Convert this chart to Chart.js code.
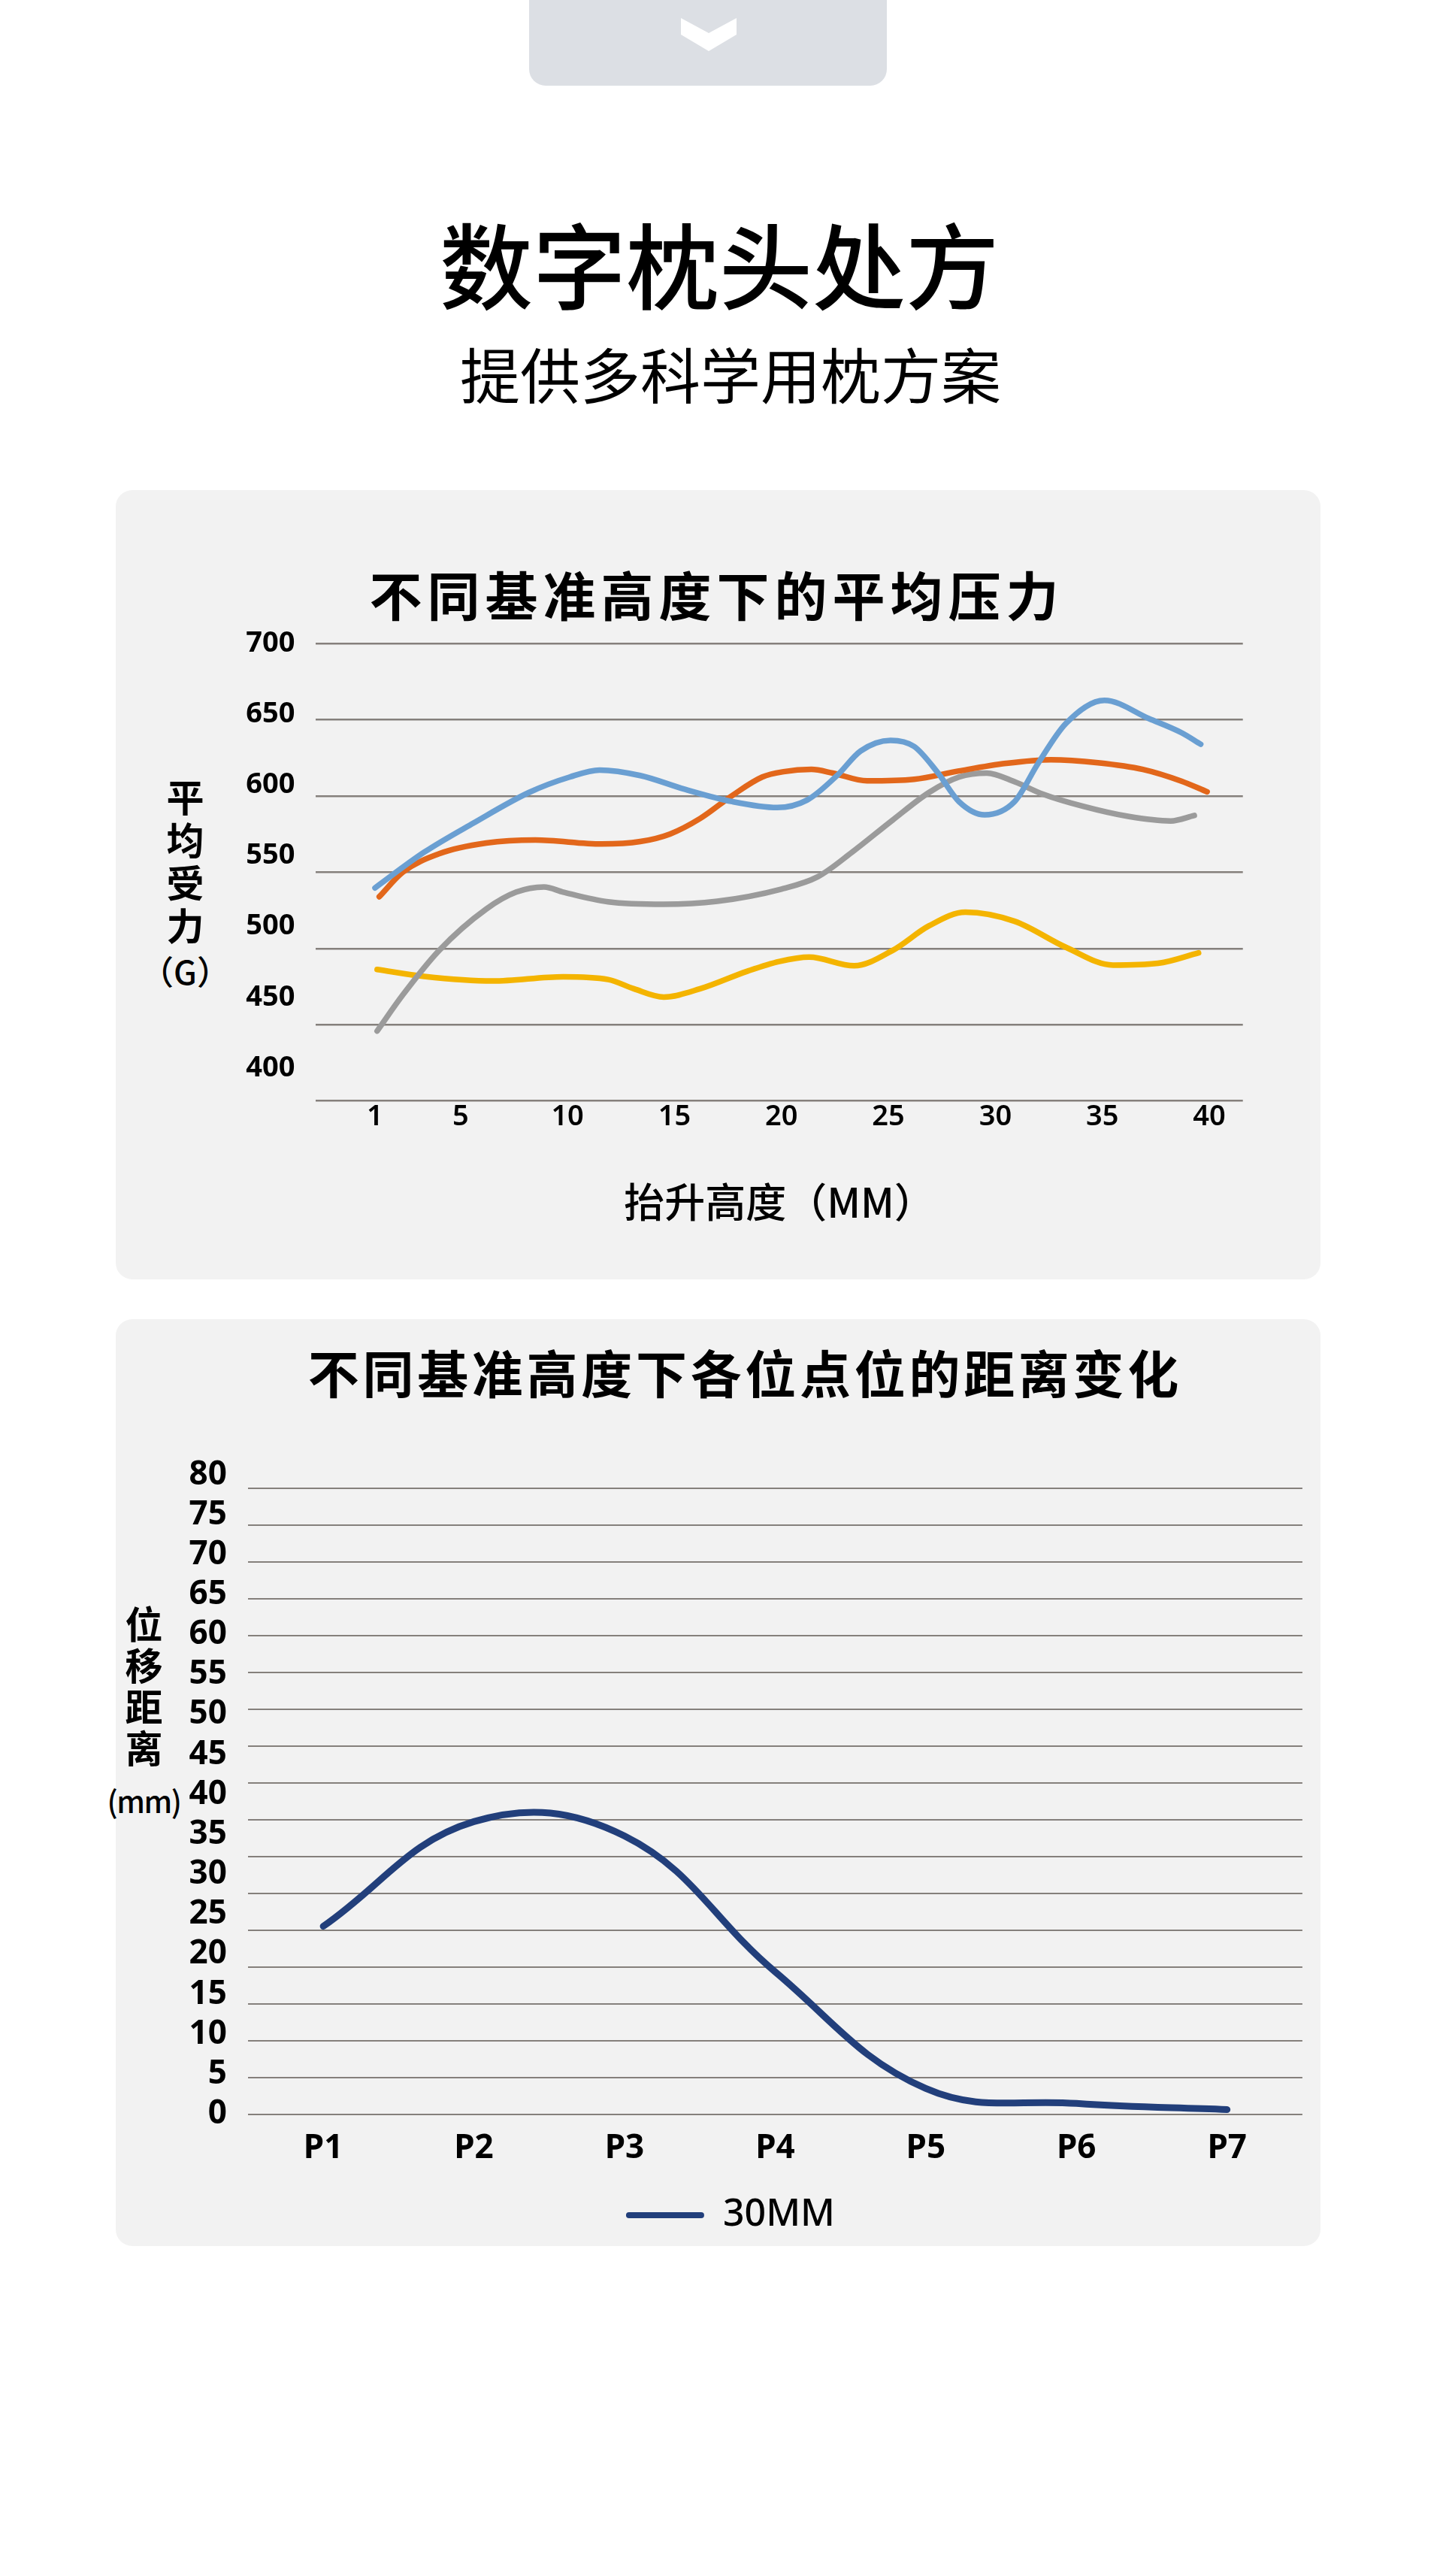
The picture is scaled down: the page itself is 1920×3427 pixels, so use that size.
<!DOCTYPE html>
<html lang="zh-CN">
<head>
<meta charset="utf-8">
<title>数字枕头处方</title>
<script src="https://cdn.jsdelivr.net/npm/chart.js@4.4.1/dist/chart.umd.min.js"></script>
<style>
html,body{margin:0;padding:0;background:#fff;}
body{position:relative;width:1920px;height:3427px;overflow:hidden;font-family:"Noto Sans CJK SC","Noto Sans",sans-serif;color:#000;}
.abs{position:absolute;}
.tab{left:704px;top:0;width:476px;height:114px;background:#dcdfe4;border-radius:0 0 22px 22px;}
.chev{left:906px;top:24px;width:74px;height:44px;}
.h1{left:0;width:1920px;text-align:center;font-size:124px;line-height:124px;font-weight:500;top:286px;transform:translateX(-3px);white-space:nowrap;}
.h2{left:0;width:1920px;text-align:center;font-size:80px;line-height:80px;font-weight:400;top:455px;transform:translateX(12px);white-space:nowrap;}
.panel{left:154px;width:1603px;background:#f2f2f2;border-radius:22px;}
.ctitle{left:0;width:1920px;text-align:center;font-weight:700;white-space:nowrap;}
.t1{font-size:70px;line-height:70px;letter-spacing:7px;padding-left:7px;box-sizing:border-box;top:755px;transform:translateX(-10px);}
.t2{font-size:68px;line-height:68px;letter-spacing:4.7px;padding-left:4.7px;box-sizing:border-box;top:1791px;transform:translateX(29px);}
.ytitle{text-align:center;font-weight:700;white-space:nowrap;}
canvas{position:absolute;}
</style>
</head>
<body>
<div class="abs tab"></div>
<svg class="abs chev" viewBox="0 0 74 44"><polygon points="0,0 37,20 74,0 74,22 37,44 0,22" fill="#ffffff"/></svg>
<div class="abs h1">数字枕头处方</div>
<div class="abs h2">提供多科学用枕方案</div>

<div class="abs panel" style="top:652px;height:1050px;"></div>
<div class="abs panel" style="top:1755px;height:1233px;"></div>

<div class="abs ctitle t1">不同基准高度下的平均压力</div>
<div class="abs ytitle" style="left:196.5px;width:100px;top:1030px;font-size:50px;line-height:57px;">平<br>均<br>受<br>力</div>
<div class="abs ytitle" style="left:166.5px;width:160px;top:1268.5px;font-size:44px;line-height:44px;font-weight:500;">（G）</div>
<canvas id="c1" width="1603" height="1050" style="left:154px;top:652px;width:1603px;height:1050px;"></canvas>

<div class="abs ctitle t2">不同基准高度下各位点位的距离变化</div>
<div class="abs ytitle" style="left:141.5px;width:100px;top:2130.7px;font-size:50px;line-height:55px;">位<br>移<br>距<br>离</div>
<div class="abs ytitle" style="left:111.5px;width:160px;top:2375px;font-size:40px;line-height:40px;font-weight:500;letter-spacing:-1.5px;">(mm)</div>
<canvas id="c2" width="1603" height="1233" style="left:154px;top:1755px;width:1603px;height:1233px;"></canvas>

<script>
// ---------- Chart 1 data: 不同基准高度下的平均压力 ----------
const X_TICKS = [1, 5, 10, 15, 20, 25, 30, 35, 40];
const Y1_TICKS = [400, 450, 500, 550, 600, 650, 700];

const BLUE_X = [1, 3.3, 5.6, 8.2, 10.1, 11.5, 13.4, 15.5, 17.7, 19.8, 21.2, 22.6, 23.7, 25.1, 26.2, 27.3, 28.3, 29.5, 30.9, 32.0, 33.3, 35.1, 37.2, 38.7, 39.6];
const BLUE_Y = [539.8, 563.2, 582.3, 602.4, 612.5, 617.1, 613.5, 604.4, 596.4, 592.5, 597.4, 613.5, 629.6, 636.6, 632.6, 615.5, 596.4, 587.7, 596.4, 621.5, 647.7, 662.8, 650.7, 641.6, 634.0];

const ORANGE_X = [1.2, 2.3, 4.0, 6.2, 8.5, 11.6, 13.4, 14.8, 16.2, 17.7, 19.1, 20.1, 21.4, 22.4, 24.0, 26.2, 28.3, 30.5, 32.6, 34.8, 36.9, 38.7, 39.9];
const ORANGE_Y = [534.0, 550.1, 562.2, 569.2, 571.2, 568.6, 570.2, 575.2, 585.3, 600.4, 612.5, 616.0, 617.5, 615.1, 610.0, 611.0, 616.5, 621.5, 623.9, 621.9, 617.5, 609.8, 602.8];

const GRAY_X = [1.1, 2.3, 4.0, 6.2, 7.6, 8.9, 9.8, 11.9, 14.5, 17.0, 20.0, 21.7, 23.3, 25.2, 26.9, 28.3, 29.6, 30.9, 32.2, 34.1, 36.2, 38.2, 39.3];
const GRAY_Y = [445.9, 469.6, 498.8, 525.9, 537.0, 540.4, 537.0, 530.6, 529.0, 531.0, 539.0, 547.1, 563.2, 584.3, 602.4, 612.5, 615.1, 609.4, 601.4, 593.3, 586.7, 583.7, 587.3];

const YELLOW_X = [1.1, 3.3, 6.5, 9.8, 11.9, 13.1, 14.5, 16.2, 18.4, 19.9, 21.3, 23.4, 25.2, 26.9, 28.6, 30.9, 33.3, 35.5, 37.6, 39.5];
const YELLOW_Y = [486.3, 481.7, 478.7, 481.5, 479.7, 473.6, 468.2, 473.6, 485.1, 491.5, 494.4, 488.7, 498.8, 514.9, 523.9, 517.9, 500.8, 489.1, 490.3, 497.2];

// ---------- Chart 2 data: 不同基准高度下各位点位的距离变化 ----------
const P_LABELS = ['P1', 'P2', 'P3', 'P4', 'P5', 'P6', 'P7'];
const MM30 = [23.5, 36.6, 34.8, 17.8, 3.2, 1.33, 0.56];
const Y2_TICKS = [0, 5, 10, 15, 20, 25, 30, 35, 40, 45, 50, 55, 60, 65, 70, 75, 80];
const GRID2_TICKS = [0, 5, 10, 15, 20, 25, 30, 35, 40, 45, 50, 55, 60, 65, 70, 75, 80, 85];

const GRID = '#85807c';
const NAVY = '#223f7b';
const toXY = (xs, ys) => xs.map((x, i) => ({ x: x, y: ys[i] }));
const lineDs = (label, xs, ys, color) => ({
  label: label, data: toXY(xs, ys), borderColor: color, backgroundColor: color,
  borderWidth: 7.5, pointRadius: 0, pointHoverRadius: 0, cubicInterpolationMode: 'monotone',
  borderCapStyle: 'round', borderJoinStyle: 'round', fill: false
});
const tickSet = arr => (s => { s.ticks = arr.map(v => ({ value: v })); });

new Chart(document.getElementById('c1'), {
  type: 'line',
  data: {
    datasets: [
      lineDs('系列1', BLUE_X, BLUE_Y, '#6a9fd2'),
      lineDs('系列2', ORANGE_X, ORANGE_Y, '#e2671b'),
      lineDs('系列3', GRAY_X, GRAY_Y, '#9b9b9b'),
      lineDs('系列4', YELLOW_X, YELLOW_Y, '#f4b400')
    ]
  },
  options: {
    responsive: false, animation: false, devicePixelRatio: 1,
    layout: { padding: { left: 0, right: 103.3, top: 204.3, bottom: 0 } },
    plugins: { legend: { display: false }, tooltip: { enabled: false } },
    scales: {
      x: {
        type: 'linear', min: -1.76, max: 41.57,
        afterBuildTicks: tickSet(X_TICKS),
        grid: { display: false }, border: { display: false },
        ticks: { font: { family: 'Noto Sans', size: 38, weight: '600', lineHeight: 1 }, color: '#000', padding: -6, maxRotation: 0, autoSkip: false },
        title: { display: true, text: '抬升高度（MM）', color: '#000', font: { family: 'Noto Sans CJK SC', size: 54, weight: '500', lineHeight: 1.2 }, padding: { top: 0, bottom: 70 } },
        afterFit: s => { s.height = 237.3; }
      },
      y: {
        type: 'linear', position: 'left', weight: 0, min: 400, max: 700,
        ticks: { display: false, stepSize: 50 },
        grid: { color: GRID, lineWidth: 2.5, drawTicks: false }, border: { display: false },
        afterFit: s => { s.width = 0; }
      },
      yLab: {
        type: 'linear', position: 'left', weight: 1, min: 376.7, max: 700,
        afterBuildTicks: tickSet(Y1_TICKS),
        grid: { display: false, drawTicks: false }, border: { display: false },
        ticks: { font: { family: 'Noto Sans', size: 38, weight: '700' }, color: '#000', padding: 28, autoSkip: false },
        afterFit: s => { s.width = 266.4; }
      }
    }
  }
});

const baseLabels = Chart.defaults.plugins.legend.labels.generateLabels;
new Chart(document.getElementById('c2'), {
  type: 'line',
  data: {
    labels: P_LABELS,
    datasets: [{
      label: '30MM', data: MM30, yAxisID: 'yLab',
      borderColor: NAVY, backgroundColor: NAVY, borderWidth: 9,
      pointRadius: 0, pointHoverRadius: 0, tension: 0.4,
      borderCapStyle: 'round', borderJoinStyle: 'round', fill: false
    }]
  },
  options: {
    responsive: false, animation: false, devicePixelRatio: 1,
    layout: { padding: { left: 57, right: 24.1, top: 207, bottom: 6 } },
    plugins: {
      tooltip: { enabled: false },
      legend: {
        display: true, position: 'bottom',
        labels: {
          boxWidth: 104, boxHeight: 8, padding: 10, color: '#000',
          useBorderRadius: true, borderRadius: 4,
          font: { family: 'Noto Sans', size: 50, weight: '500' },
          generateLabels: chart => baseLabels(chart).map(l => Object.assign({}, l, { lineWidth: 0, fillStyle: NAVY, borderRadius: 4 }))
        }
      }
    },
    scales: {
      x: {
        type: 'category', offset: true,
        grid: { display: false }, border: { display: false },
        ticks: { font: { family: 'Noto Sans', size: 44, weight: '700' }, color: '#000', padding: 12 },
        afterFit: s => { s.height = 99.5; }
      },
      y: {
        type: 'linear', position: 'left', weight: 0, min: 0, max: 86.83,
        afterBuildTicks: tickSet(GRID2_TICKS),
        ticks: { display: false },
        grid: { color: GRID, lineWidth: 2, drawTicks: false }, border: { display: false },
        afterFit: s => { s.width = 0; }
      },
      yLab: {
        type: 'linear', position: 'left', weight: 1, min: 0, max: 80,
        afterBuildTicks: tickSet(Y2_TICKS),
        grid: { display: false, drawTicks: false }, border: { display: false },
        ticks: { font: { family: 'Noto Sans', size: 44, weight: '700' }, color: '#000', padding: 28, autoSkip: false },
        afterFit: s => { s.width = 118.9; }
      }
    }
  }
});
</script>
</body>
</html>
